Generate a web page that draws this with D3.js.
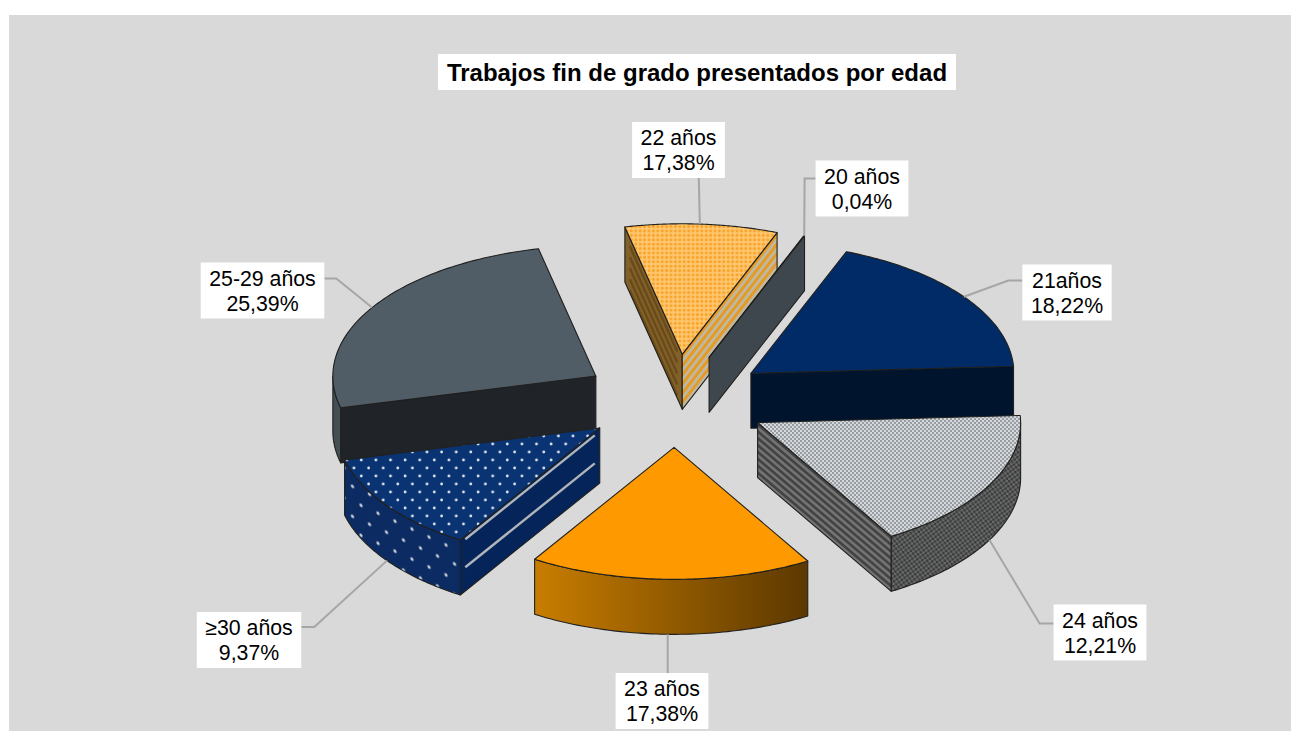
<!DOCTYPE html>
<html lang="es">
<head>
<meta charset="utf-8">
<title>Trabajos fin de grado presentados por edad</title>
<script src="https://cdn.jsdelivr.net/npm/d3@7/dist/d3.min.js"></script>
<style>
  html, body { margin: 0; padding: 0; background: #fff; }
  svg { display: block; }
  text { font-family: "Liberation Sans", Arial, sans-serif; fill: #000; }
</style>
</head>
<body>
<svg id="chart" width="1293" height="731"></svg>
<script>
// ---- data ----
const chartTitle = "Trabajos fin de grado presentados por edad";
const ageGroups = ["22 años", "20 años", "21años", "24 años", "23 años", "≥30 años", "25-29 años"];
// percentages printed on the labels
const labelValues = [17.38, 0.04, 18.22, 12.21, 17.38, 9.37, 25.39];
// angular share each wedge really occupies in the picture (the source's labels
// and wedge sizes disagree for 22, 24 and ≥30 años)
const wedgeShares = [9.37, 0.04, 18.22, 17.38, 17.38, 12.21, 25.39];

// ---- layout ----
const width = 1293, height = 731;
const center = { x: 675.3, y: 400.5 };
const radiusX = 263, radiusYFar = 130.5, radiusYNear = 132, depth = 55, explode = 0.355;
const firstAngle = -12.6 * Math.PI / 180;

// painter's order: far wedges first
const paintOrder = ["25-29 años", "22 años", "20 años", "21años", "≥30 años", "24 años", "23 años"];

// label placement: centre of the white box and which way its leader leaves
const labelLayout = {
  "22 años":    { cx: 678.5, cy: 150,   side: "top" },
  "20 años":    { cx: 862,   cy: 188.5, side: "left",  stub: 11, dy: -10 },
  "21años":     { cx: 1067,  cy: 292.5, side: "left",  stub: 14, dy: -12 },
  "24 años":    { cx: 1100,  cy: 632.5, side: "left",  stub: 14, dy: -9 },
  "23 años":    { cx: 662,   cy: 701,   side: "bottom" },
  "≥30 años":   { cx: 249,   cy: 640,   side: "right", stub: 13, dy: -13 },
  "25-29 años": { cx: 262.5, cy: 290.5, side: "right", stub: 12, dy: -12 }
};

// wedge looks
const looks = {
  "22 años":    { top: "url(#dots22)", start: { fill: "#81602a", stripes: ["#694b19", 5, 2.3] }, end: { fill: "#e59a22", stripes: ["#bfb8a4", 6, 2.8] } },
  "20 años":    { top: "#3f474e", end: { fill: "#3f474e" } },
  "21años":     { top: "#002b66", end: { fill: "#00142e" } },
  "24 años":    { top: "url(#check24)", end: { fill: "#434343", stripes: ["#747474", 8, 2.6] }, outer: "url(#check24side)" },
  "23 años":    { top: "#ff9900", outer: "url(#grad23)" },
  "≥30 años":   { top: "url(#dots30)", start: { fill: "#04245a", lines: ["#b0b5ba", [0.06, 0.57], 2.4] }, outer: "url(#dots30side)" },
  "25-29 años": { top: "#505d66", start: { fill: "#202428" }, outer: "#434e55" }
};
const edgeColor = "#20201e";
const leaderColor = "#a6a6a6";

// ---- helpers ----
const svg = d3.select("#chart");
svg.append("rect").attr("width", width).attr("height", height).attr("fill", "#fff");
svg.append("rect").attr("x", 9).attr("y", 15).attr("width", 1282).attr("height", 716).attr("fill", "#d9d9d9");

const xScale = d3.scaleLinear().domain([-1, 1]).range([center.x - radiusX, center.x + radiusX]);
const yScale = d3.scaleLinear().domain([-1, 0, 1]).range([center.y - radiusYFar, center.y, center.y + radiusYNear]);

const pie = d3.pie().sort(null).value(d => d.share)
  .startAngle(firstAngle).endAngle(firstAngle + 2 * Math.PI);

const rows = ageGroups.map((age, i) => ({ age, share: wedgeShares[i], label: labelValues[i] }));
const arcs = pie(rows);

const lineGen = d3.line().x(p => p[0]).y(p => p[1]);
const closed = pts => lineGen(pts) + "Z";

// angle a is d3's: clockwise from twelve o'clock
function project(a, r, ox, oy, down = 0) {
  return [xScale(ox + r * Math.sin(a)), yScale(oy - r * Math.cos(a)) + down];
}

const defs = svg.append("defs");

function pattern(id, w, h, bg, transform) {
  const p = defs.append("pattern").attr("id", id).attr("patternUnits", "userSpaceOnUse")
    .attr("width", w).attr("height", h);
  if (transform) p.attr("patternTransform", transform);
  p.append("rect").attr("width", w).attr("height", h).attr("fill", bg);
  return p;
}
function dot(p, x, y, r, c) { p.append("circle").attr("cx", x).attr("cy", y).attr("r", r).attr("fill", c); }
function cell(p, x, y, w, h, c) { p.append("rect").attr("x", x).attr("y", y).attr("width", w).attr("height", h).attr("fill", c); }

let pt = pattern("dots22", 4.4, 4.4, "#ffc670");
dot(pt, 2.2, 2.2, 1.5, "#f8a429");

pt = pattern("check24", 4, 4, "#d4d8da");
cell(pt, 0, 0, 2, 2, "#979da2"); cell(pt, 2, 2, 2, 2, "#979da2");

pt = pattern("check24side", 5, 5, "#6a6b6c", "rotate(8)");
cell(pt, 0, 0, 2.5, 2.5, "#3a3a3a"); cell(pt, 2.5, 2.5, 2.5, 2.5, "#3a3a3a");

pt = pattern("dots30", 14.6, 16, "#0a3373");
dot(pt, 3.6, 4, 1.4, "#dde4ec"); dot(pt, 10.9, 12, 1.4, "#dde4ec");

pt = pattern("dots30side", 17, 30, "#0b2b62", "skewY(25)");
dot(pt, 4, 7, 1.7, "#c5ccd6"); dot(pt, 12.5, 22, 1.7, "#c5ccd6");

const grad = defs.append("linearGradient").attr("id", "grad23");
grad.append("stop").attr("offset", "0").attr("stop-color", "#c87d00");
grad.append("stop").attr("offset", "1").attr("stop-color", "#5c3800");

// ---- wedges ----
const byAge = new Map(arcs.map(d => [d.data.age, d]));
const layer = svg.append("g");

function drawWall(g, a, r, ox, oy, look, key) {
  const p1 = project(a, 0, ox, oy), p2 = project(a, r, ox, oy);
  const poly = [p1, p2, [p2[0], p2[1] + depth], [p1[0], p1[1] + depth]];
  g.append("path").attr("d", closed(poly)).attr("fill", look.fill);

  const fractions = look.stripes
    ? d3.range(look.stripes[1]).map(i => (i + 0.75) / look.stripes[1])
    : look.lines ? look.lines[1] : [];
  if (fractions.length) {
    const clipId = "clip" + key;
    defs.append("clipPath").attr("id", clipId).append("path").attr("d", closed(poly));
    const spec = look.stripes || look.lines;
    const sg = g.append("g").attr("clip-path", `url(#${clipId})`);
    fractions.forEach(f => {
      sg.append("line")
        .attr("x1", p1[0] - 5).attr("x2", p2[0] + 5)
        .attr("y1", p1[1] + f * depth - 5 * (p2[1] - p1[1]) / (p2[0] - p1[0]))
        .attr("y2", p2[1] + f * depth + 5 * (p2[1] - p1[1]) / (p2[0] - p1[0]))
        .attr("stroke", spec[0]).attr("stroke-width", spec[2]);
    });
  }
  g.append("path").attr("d", closed(poly)).attr("fill", "none")
    .attr("stroke", edgeColor).attr("stroke-width", 1.1).attr("stroke-linejoin", "round");
}

paintOrder.forEach((age, n) => {
  const d = byAge.get(age);
  const look = looks[age];
  const mid = (d.startAngle + d.endAngle) / 2;
  const ox = explode * Math.sin(mid), oy = -explode * Math.cos(mid);
  const g = layer.append("g").attr("class", "wedge");

  if (look.start && Math.sin(d.startAngle) < 0) drawWall(g, d.startAngle, 1, ox, oy, look.start, n + "s");
  if (look.end && Math.sin(d.endAngle) > 0) drawWall(g, d.endAngle, 1, ox, oy, look.end, n + "e");

  // outer rim: only the part on the near half of the ellipse shows
  if (look.outer) {
    const turn = 2 * Math.PI;
    const k = Math.floor((d.startAngle - Math.PI / 2) / turn);
    const from = Math.max(d.startAngle, Math.PI / 2 + k * turn);
    const to = Math.min(d.endAngle, 3 * Math.PI / 2 + k * turn);
    const from2 = to > from ? from : Math.max(d.startAngle, Math.PI / 2 + (k + 1) * turn);
    const to2 = to > from ? to : Math.min(d.endAngle, 3 * Math.PI / 2 + (k + 1) * turn);
    if (to2 > from2) {
      const steps = d3.range(0, 61).map(i => from2 + (to2 - from2) * i / 60);
      const upper = steps.map(a => project(a, 1, ox, oy));
      const lower = steps.map(a => project(a, 1, ox, oy, depth)).reverse();
      g.append("path").attr("d", closed(upper.concat(lower)))
        .attr("fill", look.outer).attr("stroke", edgeColor).attr("stroke-width", 1.1).attr("stroke-linejoin", "round");
    }
  }

  // top face
  const steps = d3.range(0, 81).map(i => d.startAngle + (d.endAngle - d.startAngle) * i / 80);
  const face = [project(0, 0, ox, oy)].concat(steps.map(a => project(a, 1, ox, oy)));
  g.append("path").attr("d", closed(face)).attr("fill", look.top)
    .attr("stroke", edgeColor).attr("stroke-width", 1.1).attr("stroke-linejoin", "round");
});

// ---- labels and leaders ----
const leaders = svg.append("g");
const labels = svg.append("g");
const numberText = v => v.toFixed(2).replace(".", ",") + "%";
const fontSize = 21.3;

arcs.forEach(d => {
  const age = d.data.age, box = labelLayout[age];
  const g = labels.append("g");
  const bg = g.append("rect").attr("fill", "#fff");
  const text = g.append("text").attr("text-anchor", "middle").attr("font-size", fontSize);
  text.append("tspan").attr("x", box.cx).attr("y", box.cy - 5).text(age);
  text.append("tspan").attr("x", box.cx).attr("y", box.cy + 20).text(numberText(d.data.label));
  const w = text.node().getBBox().width + 17;
  const h = 56;
  bg.attr("x", box.cx - w / 2).attr("y", box.cy - h / 2).attr("width", w).attr("height", h);

  // leader ends on the wedge's bisector at the rim
  const mid = (d.startAngle + d.endAngle) / 2;
  const ox = explode * Math.sin(mid), oy = -explode * Math.cos(mid);
  const near = Math.cos(mid) < 0;
  const tip = project(mid, 1, ox, oy, near ? depth : 0);
  let pts;
  if (box.side === "top") pts = [[tip[0] - 3, box.cy + h / 2], [tip[0] - 2, tip[1]]];
  else if (box.side === "bottom") pts = [[tip[0] - 3, box.cy - h / 2], [tip[0] - 3, tip[1]]];
  else {
    const sign = box.side === "left" ? -1 : 1;
    const ex = box.cx + sign * w / 2;
    const y = box.cy + box.dy;
    pts = [[ex, y], [ex + sign * box.stub, y], tip];
  }
  leaders.append("path").attr("d", lineGen(pts)).attr("fill", "none")
    .attr("stroke", leaderColor).attr("stroke-width", 2);
});

// ---- title ----
const tg = svg.append("g");
const tbg = tg.append("rect").attr("fill", "#fff");
tg.append("text").attr("x", 697).attr("y", 81)
  .attr("text-anchor", "middle").attr("font-size", 24).attr("font-weight", "bold").text(chartTitle);
tbg.attr("x", 697 - 259).attr("y", 54).attr("width", 518).attr("height", 36);
</script>
</body>
</html>
